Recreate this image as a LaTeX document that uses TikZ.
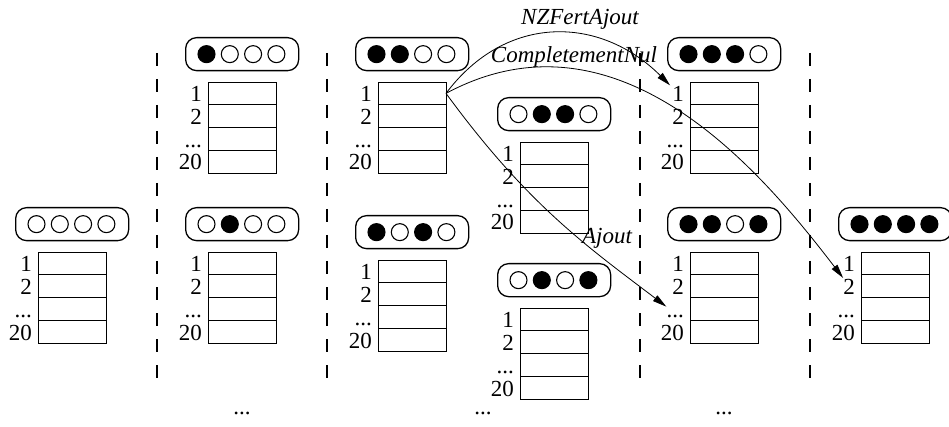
\documentclass[tikz,border=0pt]{standalone}
\usepackage{fontspec}
\setmainfont{Liberation Serif}
\usetikzlibrary{positioning,arrows.meta}

\colorlet{bille0}{white}
\colorlet{bille1}{black}

\begin{document}
\begin{tikzpicture}[x=1pt,y=-1pt,font=\fontsize{23}{26}\selectfont]
        \tikzstyle{etat} = [rectangle, rounded corners=11pt, draw=black, line width=1.3pt, minimum width=113pt, minimum height=33pt, anchor=north west]
        \tikzstyle{bille} = [circle, draw=black, line width=1.1pt, minimum size=17pt, inner sep=0pt]
        \tikzstyle{case} = [rectangle, draw=black, line width=0.8pt, minimum width=68pt, minimum height=22.75pt, inner sep=0pt, outer sep=0pt]
        \tikzstyle{num} = [anchor=base east, inner sep=0pt, xshift=-6pt, yshift=3pt]
        \tikzstyle{arrow} = [line width=0.8pt, -{Triangle[length=14pt,width=7pt]}]
        \tikzstyle{sep} = [line width=1.2pt, dash pattern=on 13pt off 13pt]
        \tikzstyle{lbl} = [font=\fontsize{23}{26}\selectfont\itshape]

                \useasboundingbox (0,0) rectangle (949,427);

                % separators between the steps
                \foreach \x in {157,327,640,810}
                        \draw[sep] (\x,53) -- (\x,385);

                % one state: the marbles, then the table of 20 entries
                \foreach \nom/\x/\y/\billes in {e0000/15/207/{0,0,0,0}, e1000/185/37/{1,0,0,0}, e0100/185/207/{0,1,0,0},
                                e1100/355/37/{1,1,0,0}, e1010/355/215/{1,0,1,0}, e0110/497/97/{0,1,1,0},
                                e0101/497/263/{0,1,0,1}, e1110/667/37/{1,1,1,0}, e1101/667/207/{1,1,0,1},
                                e1111/838/207/{1,1,1,1}}
                {
                        \node[etat] (\nom) at (\x,\y) {};
                        \foreach \b [count=\i] in \billes
                                \node[bille, fill=bille\b] at ([xshift={21.5+(\i-1)*23.3}]\nom.west) {};
                        \node (\nom-1) [case, anchor=north west, label={[num, name=\nom-l1]south west:1}] at ([xshift=23pt, yshift=-45pt]\nom.north west) {};
                        \node (\nom-2) [case, below=0pt of \nom-1, label={[num, name=\nom-l2]south west:2}] {};
                        \node (\nom-3) [case, below=0pt of \nom-2, label={[num, name=\nom-l3]south west:...}] {};
                        \node (\nom-4) [case, below=0pt of \nom-3, label={[num, name=\nom-l4]south west:20}] {};
                }

                \node (nzfert) [lbl] at (580,19) {NZFertAjout};
                \node (complnul) [lbl] at (574,57) {CompletementNul};
                \node (ajout) [lbl] at (607,238) {Ajout};

                \draw[arrow] (e1100-1.east) .. controls +(60,-80) and +(-70,-70) .. ([xshift=-2pt,yshift=1pt]e1110-l1.north west);
                \draw[arrow] (e1100-1.east) .. controls +(177,-95) and +(-74,-96) .. ([yshift=-6pt]e1111-l1.south west);
                \draw[arrow] (e1100-1.east) .. controls +(82,112) and +(-79,-60) .. ([yshift=8pt]e1101-l3.north west);

                \node (suite1) at (242,413) {...};
                \node (suite2) at (483,413) {...};
                \node (suite3) at (724,413) {...};
    \end{tikzpicture}
\end{document}
